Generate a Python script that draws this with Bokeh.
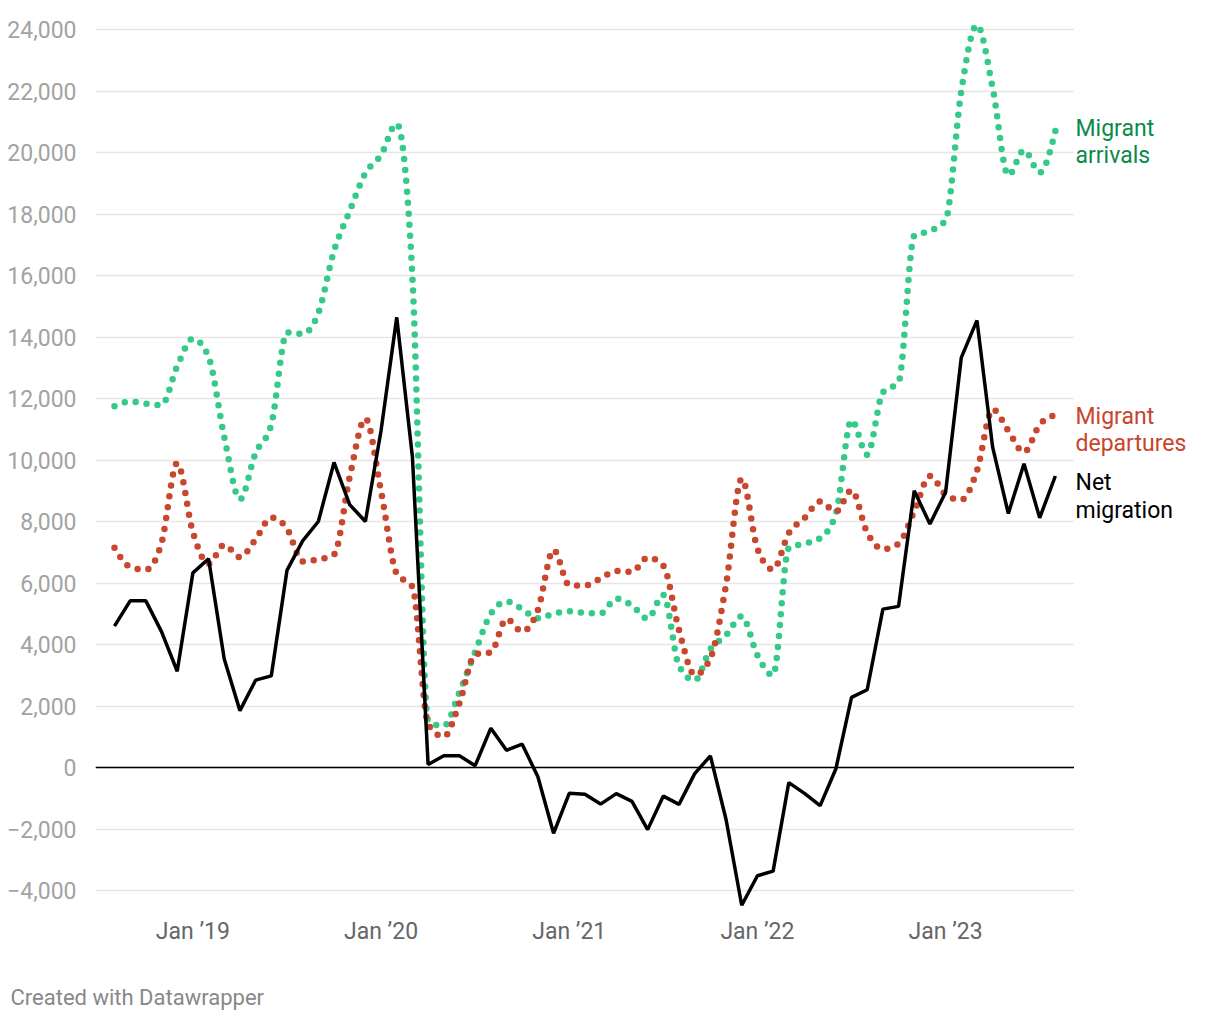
import numpy as np
import pandas as pd
from bokeh.plotting import figure
from bokeh.layouts import row, column
from bokeh.models import Range1d, FixedTicker, Span
from bokeh.core.properties import value
from bokeh.embed import file_html
from bokeh.resources import INLINE

# ---------------- data (monthly, Aug 2018 - Aug 2023) ----------------
months = [str(p) for p in pd.period_range("2018-08", "2023-08", freq="M")]

arrivals = [11750, 11900, 11830, 11780, 13050, 13950, 13350, 10750, 8720, 10230,
            11150, 14150, 14100, 14780, 16800, 18100, 19330, 19920, 20940, 15950,
            1500, 1350, 2450, 3760, 5000, 5400, 5150, 4850, 5000, 5080,
            5030, 5010, 5490, 5270, 4840, 5620, 3300, 2830, 3850, 4300,
            4920, 3650, 3000, 7150, 7280, 7460, 8250, 11300, 10170, 12200,
            12530, 17300, 17450, 17800, 22000, 24150, 22100, 19250, 20080, 19350, 20700]

departures = [7150, 6520, 6430, 7300, 9900, 7650, 6620, 7240, 6840, 7420,
              8130, 7770, 6700, 6770, 6920, 9450, 11350, 8980, 6300, 5880,
              1400, 1000, 2100, 3680, 3750, 4830, 4420, 5120, 7080, 5930,
              5920, 6150, 6390, 6360, 6830, 6560, 4470, 3010, 3550, 5950,
              9400, 7120, 6440, 7620, 8110, 8650, 8320, 9020, 7640, 7100,
              7280, 8330, 9480, 8880, 8700, 9650, 11650, 10950, 10250, 11150, 11470]

net_migration = [4600, 5420, 5420, 4420, 3130, 6330, 6790, 3530, 1850, 2840,
                 2980, 6410, 7370, 8000, 9920, 8550, 8000, 10960, 14640, 10100,
                 100, 380, 380, 60, 1280, 560, 760, -300, -2140, -840,
                 -870, -1190, -850, -1100, -2020, -930, -1200, -200, 380, -1690,
                 -4480, -3520, -3370, -490, -840, -1240, -50, 2280, 2530, 5150,
                 5240, 9000, 7920, 8950, 13330, 14540, 10420, 8260, 9880, 8120, 9480]

x_tick_months = ["2019-01", "2020-01", "2021-01", "2022-01", "2023-01"]
x_tick_labels = ["Jan \u201919", "Jan \u201920", "Jan \u201921", "Jan \u201922", "Jan \u201923"]
y_ticks = [-4000, -2000, 0, 2000, 4000, 6000, 8000, 10000, 12000,
           14000, 16000, 18000, 20000, 22000, 24000]

series_labels = [("Migrant", "arrivals"), ("Migrant", "departures"), ("Net", "migration")]
credit_text = "Created with Datawrapper"

# ---------------- styles ----------------
GREEN = "#35c98a"
GREEN_TXT = "#0a8a4b"
RED = "#c8472e"
RED_TXT = "#c9442c"
FONT = "Roboto"

Y_LO, Y_HI = -4650, 24293
FRAME_H = 890
TOP, BOTTOM = 20, 50
MAIN_W, LAB_W, CREDIT_H = 1074, 138, 56
MAIN_H = TOP + FRAME_H + BOTTOM

idx = np.arange(len(months), dtype=float)


def monotone_x(x, y, steps=14):
    """Render path of d3.curveMonotoneX through the data points."""
    x = np.asarray(x, float)
    y = np.asarray(y, float)
    n = len(x)
    h = np.diff(x)
    s = np.diff(y) / h
    t = np.zeros(n)
    for i in range(1, n - 1):
        h0, h1, s0, s1 = h[i - 1], h[i], s[i - 1], s[i]
        p = (s0 * h1 + s1 * h0) / (h0 + h1)
        t[i] = (np.sign(s0) + np.sign(s1)) * min(abs(s0), abs(s1), 0.5 * abs(p))
    t[0] = (3 * s[0] - t[1]) / 2
    t[-1] = (3 * s[-1] - t[-2]) / 2
    xs, ys = [x[0]], [y[0]]
    for i in range(n - 1):
        dx = h[i]
        p0 = np.array([x[i], y[i]])
        p1 = np.array([x[i] + dx / 3, y[i] + dx * t[i] / 3])
        p2 = np.array([x[i + 1] - dx / 3, y[i + 1] - dx * t[i + 1] / 3])
        p3 = np.array([x[i + 1], y[i + 1]])
        for k in range(1, steps + 1):
            u = k / steps
            b = ((1 - u) ** 3) * p0 + 3 * ((1 - u) ** 2) * u * p1 + 3 * (1 - u) * u * u * p2 + (u ** 3) * p3
            xs.append(b[0])
            ys.append(b[1])
    return xs, ys


y_range = Range1d(Y_LO, Y_HI)

# ---------------- main chart ----------------
p = figure(width=MAIN_W, height=MAIN_H, output_backend="svg", toolbar_location=None,
           x_range=Range1d(-1.21, 61.22), y_range=y_range,
           min_border_left=95, min_border_right=0, min_border_top=TOP, min_border_bottom=BOTTOM)
p.outline_line_color = None
p.background_fill_color = "white"
p.border_fill_color = "white"

p.xgrid.grid_line_color = None
p.ygrid.grid_line_color = "#e6e6e6"
p.ygrid.grid_line_width = 1.5

p.yaxis.ticker = FixedTicker(ticks=y_ticks)
p.yaxis.major_label_overrides = {v: f"{v:,}".replace("-", "\u2212") for v in y_ticks}
p.yaxis.axis_line_color = None
p.yaxis.major_tick_line_color = None
p.yaxis.minor_tick_line_color = None
p.yaxis.major_label_standoff = 13
p.yaxis.major_label_text_font = FONT
p.yaxis.major_label_text_font_size = "23px"
p.yaxis.major_label_text_color = "#a3a3a3"

x_ticks = [months.index(m) for m in x_tick_months]
p.xaxis.ticker = FixedTicker(ticks=x_ticks)
p.xaxis.major_label_overrides = {t: lab for t, lab in zip(x_ticks, x_tick_labels)}
p.xaxis.axis_line_color = None
p.xaxis.major_tick_line_color = None
p.xaxis.minor_tick_line_color = None
p.xaxis.major_label_standoff = 1
p.xaxis.major_label_text_font = FONT
p.xaxis.major_label_text_font_size = "23px"
p.xaxis.major_label_text_color = "#666666"

p.add_layout(Span(location=0, dimension="width", line_color="black", line_width=1.5))

gx, gy = monotone_x(idx, arrivals)
p.line(gx, gy, line_color=GREEN, line_width=6.5, line_dash="0 11", line_cap="round")
rx, ry = monotone_x(idx, departures)
p.line(rx, ry, line_color=RED, line_width=6.5, line_dash="0 11", line_cap="round")
p.line(idx, net_migration, line_color="black", line_width=3.5)

# ---------------- end labels (separate panel right of the chart) ----------------
p_lab = figure(width=LAB_W, height=MAIN_H, output_backend="svg", toolbar_location=None,
               x_range=Range1d(0, LAB_W), y_range=y_range,
               x_axis_type=None, y_axis_type=None,
               min_border_left=0, min_border_right=0, min_border_top=TOP, min_border_bottom=BOTTOM)
p_lab.outline_line_color = None
p_lab.background_fill_color = "white"
p_lab.border_fill_color = "white"

du = (Y_HI - Y_LO) / FRAME_H  # data units per pixel
label_specs = [
    (series_labels[0], arrivals[-1], GREEN_TXT, -2.3, 27.0),
    (series_labels[1], departures[-1], RED_TXT, 1.2, 27.5),
    (series_labels[2], net_migration[-1], "black", 6.8, 27.5),
]
lx, ly, lt, lc = [], [], [], []
for (l1, l2), yv, col, off, lh in label_specs:
    for j, txt in enumerate((l1, l2)):
        lx.append(1)
        ly.append(yv - (off + j * lh) * du)
        lt.append(txt)
        lc.append(col)
p_lab.text(x=lx, y=ly, text=lt, text_color=lc, text_font=value(FONT),
           text_font_size="23px", text_baseline="alphabetic", text_align="left")

# ---------------- credit ----------------
W_TOTAL = MAIN_W + LAB_W
p_credit = figure(width=W_TOTAL, height=CREDIT_H, output_backend="svg", toolbar_location=None,
                  x_range=Range1d(0, W_TOTAL), y_range=Range1d(0, CREDIT_H),
                  x_axis_type=None, y_axis_type=None, min_border=0)
p_credit.outline_line_color = None
p_credit.background_fill_color = "white"
p_credit.border_fill_color = "white"
p_credit.text(x=[10], y=[CREDIT_H - 37], text=[credit_text], text_color="#888888",
              text_font=value(FONT), text_font_size="22px",
              text_baseline="alphabetic", text_align="left")

layout = column(row(p, p_lab), p_credit)
open("out.html", "w").write(file_html(layout, INLINE))
